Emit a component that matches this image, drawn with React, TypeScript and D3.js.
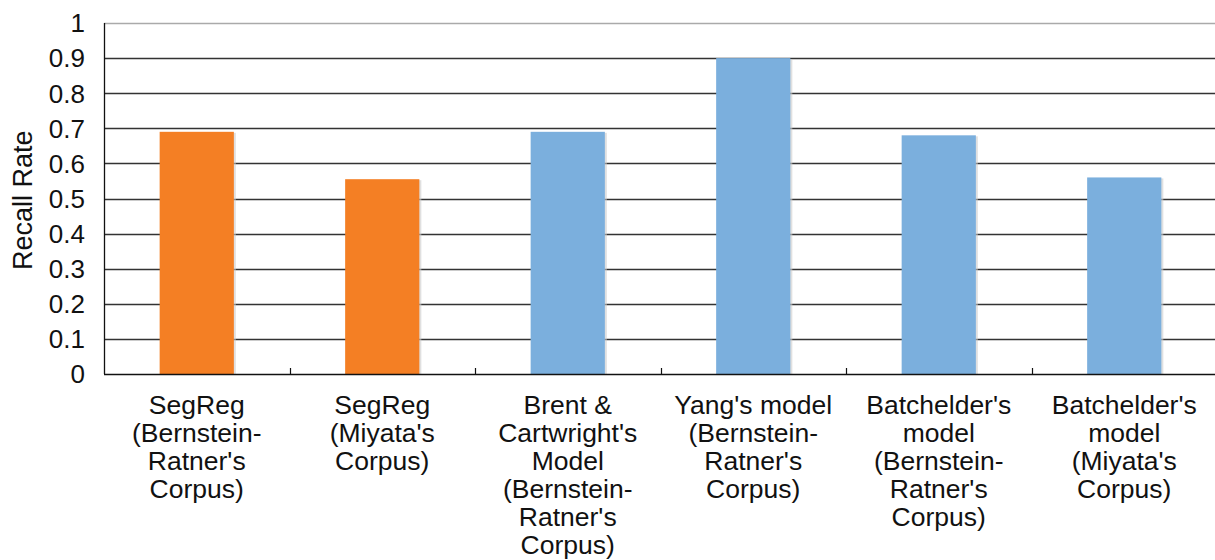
import * as d3 from "d3";
import { useEffect, useRef } from "react";

const categories = [
  ["SegReg", "(Bernstein-", "Ratner's", "Corpus)"],
  ["SegReg", "(Miyata's", "Corpus)"],
  ["Brent &", "Cartwright's", "Model", "(Bernstein-", "Ratner's", "Corpus)"],
  ["Yang's model", "(Bernstein-", "Ratner's", "Corpus)"],
  ["Batchelder's", "model", "(Bernstein-", "Ratner's", "Corpus)"],
  ["Batchelder's", "model", "(Miyata's", "Corpus)"],
];
const recall = [0.69, 0.555, 0.69, 0.9, 0.68, 0.56];
const barColors = ["#f47f24", "#f47f24", "#7bafdd", "#7bafdd", "#7bafdd", "#7bafdd"];
const yTicks = [0, 0.1, 0.2, 0.3, 0.4, 0.5, 0.6, 0.7, 0.8, 0.9, 1];

const App: React.FC = () => {
  const ref = useRef<HTMLDivElement | null>(null);

  useEffect(() => {
    const width = 1215;
    const height = 560;
    const margin = { top: 23, right: -2, bottom: 186, left: 104 };
    const innerW = width - margin.left - margin.right;
    const innerH = height - margin.top - margin.bottom;
    const font = "'Liberation Sans', Arial, sans-serif";

    if (!ref.current) return;
    d3.select(ref.current).selectAll("*").remove();

    const svg = d3
      .select(ref.current)
      .append("svg")
      .attr("width", width)
      .attr("height", height)
      .style("position", "absolute")
      .style("left", 0)
      .style("top", 0)
      .style("background", "#fff");

    const g = svg.append("g").attr("transform", `translate(${margin.left},${margin.top})`);

    const idx = categories.map((_, i) => String(i));
    const x = d3.scaleBand().domain(idx).range([0, innerW]).paddingInner(0.6).paddingOuter(0.3);
    const xb = d3.scaleBand().domain(idx).range([0, innerW]);
    const y = d3.scaleLinear().domain([0, 1]).range([innerH, 0]);

    // grid lines
    g.append("g")
      .selectAll("line")
      .data(yTicks.filter((t) => t > 0))
      .join("line")
      .attr("x1", 0)
      .attr("x2", innerW)
      .attr("y1", (d) => Math.round(y(d)) + 0.5)
      .attr("y2", (d) => Math.round(y(d)) + 0.5)
      .attr("stroke", (d) => (d === 1 ? "#aaa" : "#333"))
      .attr("stroke-width", 1.3);

    // bar shadows
    g.append("g")
      .selectAll("rect")
      .data(recall)
      .join("rect")
      .attr("x", (_, i) => (x(String(i)) ?? 0) + 2)
      .attr("y", (d) => y(d) + 1)
      .attr("width", x.bandwidth())
      .attr("height", (d) => innerH - y(d) - 1)
      .attr("fill", "#ccc")
      .attr("opacity", 0.6);

    g.append("g")
      .selectAll("rect")
      .data(recall)
      .join("rect")
      .attr("x", (_, i) => x(String(i)) ?? 0)
      .attr("y", (d) => y(d))
      .attr("width", x.bandwidth())
      .attr("height", (d) => innerH - y(d))
      .attr("fill", (_, i) => barColors[i]);

    // axes lines
    g.append("line")
      .attr("x1", 0.5)
      .attr("x2", 0.5)
      .attr("y1", y(1))
      .attr("y2", innerH)
      .attr("stroke", "#111")
      .attr("stroke-width", 1.3);
    g.append("line")
      .attr("x1", 0)
      .attr("x2", innerW)
      .attr("y1", innerH + 0.5)
      .attr("y2", innerH + 0.5)
      .attr("stroke", "#111")
      .attr("stroke-width", 1.3);

    // category boundary ticks
    g.append("g")
      .selectAll("line")
      .data(idx.slice(1))
      .join("line")
      .attr("x1", (d) => Math.round(xb(d) ?? 0) + 0.5)
      .attr("x2", (d) => Math.round(xb(d) ?? 0) + 0.5)
      .attr("y1", innerH - 6)
      .attr("y2", innerH)
      .attr("stroke", "#111")
      .attr("stroke-width", 1.2);

    // y tick labels
    g.append("g")
      .selectAll("text")
      .data(yTicks)
      .join("text")
      .attr("x", -19)
      .attr("y", (d) => y(d))
      .attr("dy", "0.36em")
      .attr("text-anchor", "end")
      .attr("font-family", font)
      .attr("font-size", 26)
      .attr("fill", "#111")
      .text((d) => String(d));

    // category labels
    const labels = g
      .append("g")
      .selectAll("text")
      .data(categories)
      .join("text")
      .attr("x", (_, i) => (xb(String(i)) ?? 0) + xb.bandwidth() / 2)
      .attr("y", innerH + 40)
      .attr("text-anchor", "middle")
      .attr("font-family", font)
      .attr("font-size", 26.5)
      .attr("fill", "#111");
    labels
      .selectAll("tspan")
      .data((d) => d)
      .join("tspan")
      .attr("x", function () {
        return (this.parentNode as SVGTextElement).getAttribute("x");
      })
      .attr("dy", (_, j) => (j === 0 ? 0 : 28))
      .text((d) => d);

    // y axis title
    svg
      .append("text")
      .attr("transform", `translate(32,${margin.top + innerH * 0.505}) rotate(-90)`)
      .attr("text-anchor", "middle")
      .attr("font-family", font)
      .attr("font-size", 27)
      .attr("fill", "#111")
      .text("Recall Rate");
  }, []);

  return <div ref={ref} />;
};

export default App;
